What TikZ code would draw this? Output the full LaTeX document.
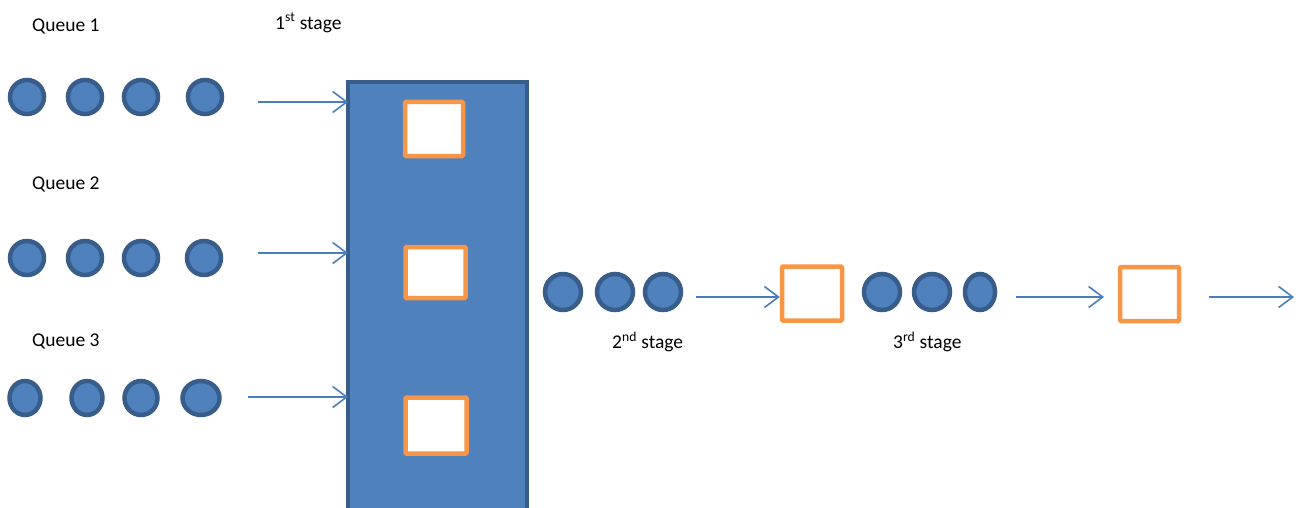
\documentclass[tikz,border=0pt]{standalone}
\usepackage{fontspec}
\setmainfont{Carlito}
\usetikzlibrary{arrows.meta,shapes.geometric}
\definecolor{qfill}{HTML}{4F81BD}
\definecolor{qedge}{HTML}{385D8A}
\definecolor{srv}{HTML}{F79646}
\definecolor{flow}{HTML}{4A7EBB}
\tikzset{
  job/.style={ellipse, draw=qedge, fill=qfill, line width=4.5pt, minimum width=34pt, minimum height=34pt, inner sep=0pt},
  server/.style={draw=srv, fill=white, line width=4.5pt, rounded corners=1pt, inner sep=0pt},
  flowline/.style={draw=flow, line width=1.6pt, -{Straight Barb[length=14pt, width=21pt, line width=1.6pt]}},
  lbl/.style={font=\fontsize{19.5}{22}\selectfont, inner sep=0pt, anchor=west}
}
\begin{document}
\begin{tikzpicture}[x=1pt, y=-1pt]
\useasboundingbox (0,0) rectangle (1298,508);

% labels
\node[lbl] (q1) at (32,26) {Queue 1};
\node[lbl] (q2) at (32,184) {Queue 2};
\node[lbl] (q3) at (32,341) {Queue 3};
\node[lbl] (s1) at (275,23) {1\textsuperscript{st} stage};
\node[lbl] (s2) at (612,342) {2\textsuperscript{nd} stage};
\node[lbl] (s3) at (893,342) {3\textsuperscript{rd} stage};

% first stage block, running off the bottom edge
\path[draw=qedge, fill=qfill, line width=4pt] (348,82) rectangle (527,520);
\coordinate (b1) at (348,102);
\coordinate (b2) at (348,253);
\coordinate (b3) at (348,397);

% servers of the first stage
\node[server, minimum width=58pt, minimum height=54pt] (m1) at (434,129) {};
\node[server, minimum width=60pt, minimum height=51pt] (m2) at (435.5,272.5) {};
\node[server, minimum width=61pt, minimum height=56pt] (m3) at (436,425.5) {};

% queue 1
\node[job] (a1) at (27,97) {};
\node[job] (a2) at (85,97) {};
\node[job] (a3) at (141,97) {};
\node[job] (a4) at (205,97) {};
% queue 2
\node[job] (c1) at (27,258) {};
\node[job] (c2) at (85,258) {};
\node[job] (c3) at (141,258) {};
\node[job] (c4) at (204,258) {};
% queue 3
\node[job, minimum width=31pt] (d1) at (25,398) {};
\node[job, minimum width=31pt] (d2) at (87,398) {};
\node[job, minimum width=33pt] (d3) at (141,398) {};
\node[job, minimum width=37pt] (d4) at (201,398) {};

\coordinate (t1) at (258,102);
\coordinate (t2) at (258,253);
\coordinate (t3) at (248,397);
\draw[flowline] (t1) -- (b1);
\draw[flowline] (t2) -- (b2);
\draw[flowline] (t3) -- (b3);

% second stage
\node[job, minimum width=36pt, minimum height=36pt] (e1) at (563,292) {};
\node[job, minimum width=36pt, minimum height=36pt] (e2) at (615,292) {};
\node[job, minimum width=36pt, minimum height=36pt] (e3) at (663,292) {};
\node[server, minimum width=60pt, minimum height=54pt] (m4) at (812,293.5) {};
\coordinate (t4) at (696,297);
\draw[flowline] (t4) -- (t4 -| m4.west);

% third stage
\node[job, minimum width=36pt, minimum height=36pt] (f1) at (882,292) {};
\node[job, minimum width=36pt, minimum height=36pt] (f2) at (932,292) {};
\node[job, minimum width=30pt, minimum height=36pt] (f3) at (980,292) {};
\node[server, minimum width=59pt, minimum height=54pt] (m5) at (1149.5,294) {};
\coordinate (t5) at (1016,297);
\coordinate (t6) at (1104,297);
\draw[flowline] (t5) -- (t6);

% exit
\coordinate (t7) at (1209,297);
\coordinate (t8) at (1294,297);
\draw[flowline] (t7) -- (t8);
\end{tikzpicture}
\end{document}
